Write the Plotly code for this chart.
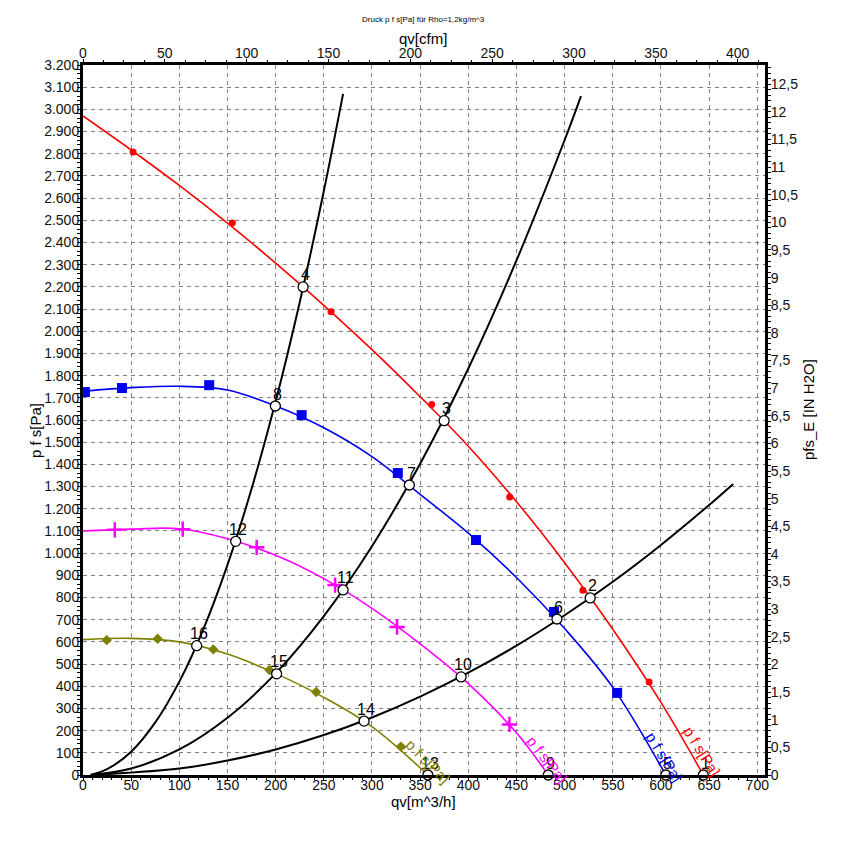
import plotly.graph_objects as go

PA_PER_INH2O = 249.089
M3H_TO_CFM = 0.588578
X_MAX = 708
Y_MAX = 3200

# ---- fan curves (line readings): q [m^3/h], p [Pa]
red_q = [0, 50, 100, 150, 200, 250, 300, 350, 400, 450, 500, 550, 600, 644]
red_p = [2970, 2817, 2657, 2487, 2307, 2117, 1917, 1705, 1482, 1232, 957, 657, 327, 0]
red_mq = [52, 155, 257.5, 362, 443, 519, 587.7]
red_mp = [2808, 2488, 2088, 1670, 1253, 833, 419]

blue_q = [0, 50, 100, 150, 200, 250, 300, 350, 400, 450, 500, 550, 605]
blue_p = [1730, 1746, 1752, 1735, 1663, 1565, 1435, 1265, 1090, 890, 660, 395, 0]
blue_mq = [2, 40.5, 131, 227, 326.8, 408, 489, 554.5]
blue_mp = [1726, 1744, 1757, 1622, 1361, 1059, 735, 370]

mag_q = [0, 50, 100, 150, 200, 250, 300, 350, 400, 450, 483]
mag_p = [1100, 1108, 1110, 1065, 990, 885, 751, 591, 412, 190, 0]
mag_mq = [33, 103.5, 180.3, 261.7, 326, 442.7]
mag_mp = [1105, 1108, 1026, 856, 667, 228]

oli_q = [0, 50, 100, 150, 200, 250, 300, 358]
oli_p = [610, 616, 600, 545, 458, 350, 218, 0]
oli_mq = [24.6, 77.5, 135.3, 193.5, 242, 330]
oli_mp = [608, 614, 566, 473, 374, 128]

# ---- system curves
sysA_q = [8, 25, 50, 75, 100, 125, 150, 175, 200, 225, 250, 270]
sysA_p = [0, 26, 105, 237, 421, 658, 947, 1290, 1684, 2131, 2632, 3070]
sysB_q = [8, 50, 100, 150, 200, 250, 300, 350, 400, 450, 500, 517]
sysB_p = [0, 29, 115, 258, 458, 716, 1031, 1403, 1832, 2319, 2862, 3060]
sysC_q = [8, 100, 150, 200, 250, 300, 350, 400, 450, 500, 550, 600, 650, 675]
sysC_p = [0, 29, 65, 115, 180, 259, 353, 461, 583, 720, 871, 1037, 1217, 1312]

# ---- operating points
pt_labels = [str(i) for i in range(1, 17)]
pt_q = [644, 526.5, 374.9, 228.5, 605, 492, 338.8, 199.7, 483, 392.5, 270, 158.5, 358, 291.8, 201, 118]
pt_p = [0, 798, 1597, 2200, 0, 703, 1307, 1663, 0, 442, 834, 1053, 0, 243, 456, 583]

RED, BLUE, MAG, OLI = "#FF0000", "#0000EE", "#FF00FF", "#808000"
FONT = "Liberation Sans, Arial, sans-serif"

fig = go.Figure()

def fan(q, p, mq, mp, color, symbol, size, mline=0):
    fig.add_trace(go.Scatter(x=q, y=p, mode="lines",
                             line=dict(color=color, width=1.6, shape="spline", smoothing=1.0),
                             showlegend=False, hoverinfo="skip"))
    mk = dict(color=color, size=size, symbol=symbol)
    if mline:
        mk["line"] = dict(color=color, width=mline)
    fig.add_trace(go.Scatter(x=mq, y=mp, mode="markers", marker=mk, showlegend=False, hoverinfo="skip"))

for q, p in [(sysA_q, sysA_p), (sysB_q, sysB_p), (sysC_q, sysC_p)]:
    fig.add_trace(go.Scatter(x=q, y=p, mode="lines",
                             line=dict(color="black", width=2, shape="spline", smoothing=1.0),
                             showlegend=False, hoverinfo="skip"))

fan(oli_q, oli_p, oli_mq, oli_mp, OLI, "diamond", 8)
fan(mag_q, mag_p, mag_mq, mag_mp, MAG, "cross-thin", 11, 2.5)
fan(blue_q, blue_p, blue_mq, blue_mp, BLUE, "square", 10)
fan(red_q, red_p, red_mq, red_mp, RED, "circle", 7)

fig.add_trace(go.Scatter(x=pt_q, y=pt_p, mode="markers",
                         marker=dict(color="white", size=10, line=dict(color="black", width=1.3)),
                         showlegend=False, hoverinfo="skip", cliponaxis=False))

# dummy trace to activate secondary axes
fig.add_trace(go.Scatter(x=[0], y=[0], xaxis="x2", yaxis="y2", mode="markers",
                         marker=dict(opacity=0), showlegend=False, hoverinfo="skip"))

annotations = []
for lab, q, p in zip(pt_labels, pt_q, pt_p):
    annotations.append(dict(x=q, y=p, text=lab, showarrow=False, yshift=12, xshift=2,
                            font=dict(size=16, color="black", family=FONT)))

# curve name labels
for x, y, ang, col in [(643, 108, 58, RED), (604, 81, 58, BLUE), (482, 72, 52, MAG), (358, 59, 45, OLI)]:
    annotations.append(dict(x=x, y=y, text="p f s[Pa]", showarrow=False, textangle=ang,
                            font=dict(size=15, color=col, family=FONT)))

# titles (placed in paper coordinates, centred on the given pixel positions)
tf = dict(size=15, color="black", family=FONT)
def ttl(px, py, text, font, angle=0):
    return dict(x=(px - 83) / 682, y=(775 - py) / 710, xref="paper", yref="paper", text=text,
                showarrow=False, xanchor="center", yanchor="middle", textangle=angle, font=font)

annotations += [
    ttl(423, 19, "Druck p f s[Pa] für Rho=1,2kg/m^3", dict(size=8, color="black", family=FONT)),
    ttl(423, 38, "qv[cfm]", tf),
    ttl(423, 801, "qv[m^3/h]", tf),
    ttl(35, 430, "p f s[Pa]", tf, -90),
    ttl(808, 410, "pfs_E [IN H2O]", tf, -90),
]

axis_common = dict(showline=True, linecolor="black", linewidth=3, ticks="outside", ticklen=3,
                   tickcolor="black", tickwidth=1, zeroline=False,
                   tickfont=dict(size=14, color="#111", family=FONT))

fig.update_layout(
    width=844, height=849,
    margin=dict(l=83, r=79, t=65, b=74),
    paper_bgcolor="white", plot_bgcolor="white",
    separators=",.",
    font=dict(family=FONT, color="black"),
    xaxis=dict(range=[0, X_MAX], dtick=50, showgrid=True, gridcolor="#808080", griddash="4px,4px", gridwidth=1,
               ticklabelstandoff=-8,
               minor=dict(dtick=10, ticks="outside", ticklen=2, tickcolor="black", showgrid=False),
               **axis_common),
    yaxis=dict(range=[0, Y_MAX], dtick=100, tickformat=",", showgrid=True, gridcolor="#808080",
               griddash="4px,4px", gridwidth=1, ticklabelstandoff=-5,
               minor=dict(dtick=20, ticks="outside", ticklen=3, tickcolor="black", showgrid=False),
               **axis_common),
    xaxis2=dict(overlaying="x", side="top", range=[0, X_MAX * M3H_TO_CFM], dtick=50, showgrid=False,
                anchor="y2", ticklabelstandoff=-5,
                minor=dict(dtick=12.5, ticks="outside", ticklen=2, tickcolor="black", showgrid=False),
                **axis_common),
    yaxis2=dict(overlaying="y", side="right", range=[0, Y_MAX / PA_PER_INH2O], dtick=0.5, showgrid=False,
                anchor="x2", ticklabelstandoff=-3,
                minor=dict(dtick=0.1, ticks="outside", ticklen=3, tickcolor="black", showgrid=False),
                **axis_common),
    annotations=annotations,
)

fig.write_html("out.html")
